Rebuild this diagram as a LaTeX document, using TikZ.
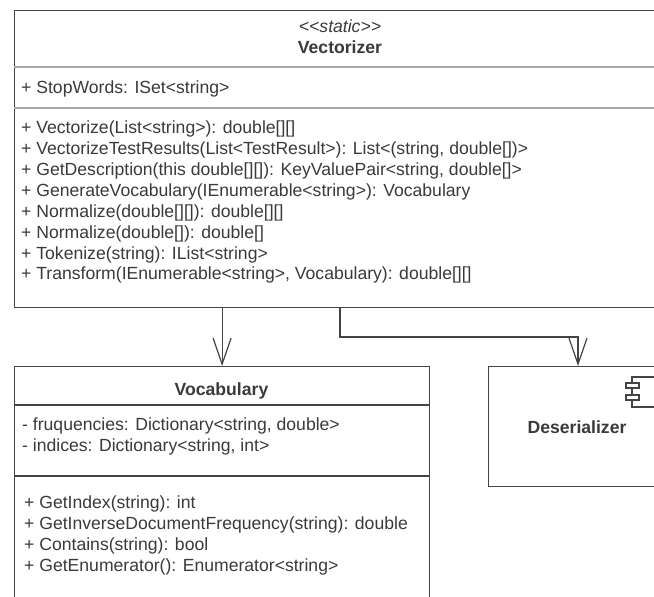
\documentclass[tikz,border=0pt]{standalone}
\usepackage{fontspec}
\setmainfont{Liberation Sans}
\usetikzlibrary{arrows.meta}
\definecolor{umlline}{HTML}{444444}
\definecolor{umlsoft}{HTML}{A8A8A8}
\definecolor{umltext}{HTML}{3A3A3A}
\tikzset{
	classbox/.style={draw=umlline, line width=1.2pt, anchor=north west, inner sep=0pt},
	divider/.style={draw=umlline, line width=1.2pt},
	softdivider/.style={draw=umlsoft, line width=1.2pt},
	assoc/.style={draw=umlline, line width=1.2pt, -{Straight Barb[length=26pt,width=18pt]}},
	members/.style={anchor=north west, inner sep=0pt, align=left, text=umltext, font=\fontsize{17.6}{20.85}\selectfont},
	titletext/.style={anchor=base, inner sep=0pt, text=umltext, font=\fontsize{17.6}{20}\selectfont\bfseries},
}

\begin{document}
\begin{tikzpicture}[x=1pt, y=-1pt]
	%%%%% START %%%%%
	\clip (0, 0) rectangle (654, 597);
	\fill[white] (0, 0) rectangle (654, 597);
	
	\node[classbox, minimum width=760pt, minimum height=297pt] (vectorizer) at (14, 10) {};
	\draw[softdivider] (14, 67) -- (654, 67);
	\draw[softdivider] (14, 108) -- (654, 108);
	\node[titletext, font=\fontsize{17.6}{20}\selectfont\itshape] (stereotype) at (340, 32) {<{}<static>{}>};
	\node[titletext] (vectorizertitle) at (340, 53) {Vectorizer};
	\node[members] (stopwords) at (21, 81) {+ StopWords: ISet<string>};
	\node[members] (vectorizermethods) at (21, 121) {+ Vectorize(List<string>): double[][]\\
		+ VectorizeTestResults(List<TestResult>): List<(string, double[])>\\
		+ GetDescription(this double[][]): KeyValuePair<string, double[]>\\
		+ GenerateVocabulary(IEnumerable<string>): Vocabulary\\
		+ Normalize(double[][]): double[][]\\
		+ Normalize(double[]): double[]\\
		+ Tokenize(string): IList<string>\\
		+ Transform(IEnumerable<string>, Vocabulary): double[][]};
	
	\node[classbox, minimum width=415pt, minimum height=300pt] (vocabulary) at (14, 366) {};
	\draw[divider] (14, 405) -- (429, 405);
	\draw[divider] (14, 476) -- (429, 476);
	\node[titletext] (vocabularytitle) at (221.5, 395) {Vocabulary};
	\node[members] (vocabularyfields) at (22, 418) {- fruquencies: Dictionary<string, double>\\
		- indices: Dictionary<string, int>};
	\node[members] (vocabularymethods) at (24, 496) {+ GetIndex(string): int\\
		+ GetInverseDocumentFrequency(string): double\\
		+ Contains(string): bool\\
		+ GetEnumerator(): Enumerator<string>};
	
	\node[classbox, minimum width=400pt, minimum height=120pt] (deserializer) at (488, 366) {};
	\node[titletext] (deserializertitle) at (577, 433) {Deserializer};
	\draw[divider, fill=white] (632, 377) rectangle (700, 407);
	\draw[divider, fill=white] (626, 383) rectangle (639, 388);
	\draw[divider, fill=white] (626, 395) rectangle (639, 400);
	
	\coordinate (deserializerport) at (578, 366);
	\draw[assoc] (vectorizer.south -| vocabulary.north) -- (vocabulary.north);
	\draw[assoc] (vectorizertitle |- vectorizer.south) -- (340, 337) -| (deserializerport);
	%%%%% END %%%%%
\end{tikzpicture}
\end{document}
